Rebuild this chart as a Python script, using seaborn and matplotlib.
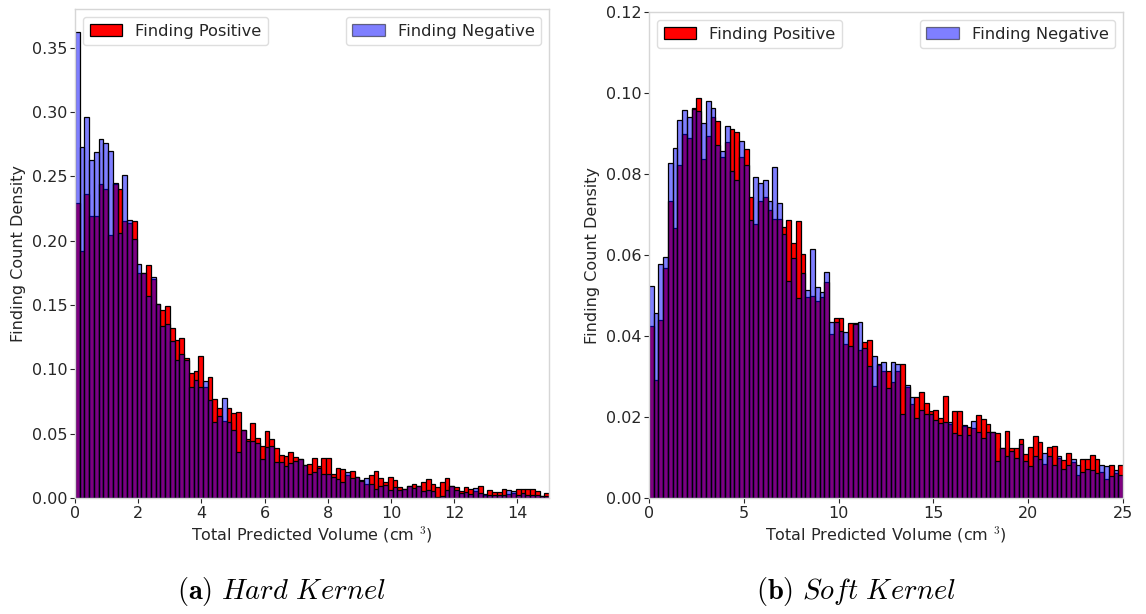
import numpy as np
import pandas as pd
import matplotlib
matplotlib.use("Agg")
import matplotlib.pyplot as plt
from matplotlib.patches import Patch
import seaborn as sns

# ---- Hard kernel: densities per bin over 0..15 cm^3 (100 bins) ----
hard_positive = [
    0.229, 0.192, 0.236, 0.219, 0.219, 0.244, 0.240, 0.204, 0.244, 0.240,
    0.215, 0.214, 0.215, 0.175, 0.175, 0.181, 0.170, 0.151, 0.146, 0.149,
    0.132, 0.123, 0.124, 0.109, 0.097, 0.099, 0.110, 0.086, 0.094, 0.077,
    0.070, 0.060, 0.070, 0.066, 0.067, 0.053, 0.0455, 0.058, 0.0466, 0.0404,
    0.052, 0.046, 0.0385, 0.0336, 0.0329, 0.0354, 0.032, 0.030, 0.0256, 0.0261,
    0.0308, 0.0251, 0.0313, 0.0308, 0.0189, 0.0233, 0.0222, 0.0178, 0.0207, 0.016,
    0.0142, 0.0109, 0.0176, 0.021, 0.0153, 0.0122, 0.0166, 0.014, 0.0083, 0.0072,
    0.0093, 0.0109, 0.0093, 0.0122, 0.0147, 0.0109, 0.0083, 0.0122, 0.0158, 0.0093,
    0.0088, 0.0052, 0.0083, 0.0072, 0.0054, 0.0093, 0.0023, 0.0062, 0.0047, 0.0044,
    0.0067, 0.0031, 0.0036, 0.007, 0.0072, 0.0067, 0.0067, 0.0057, 0.0018, 0.0036,
]
hard_negative = [
    0.362, 0.273, 0.296, 0.263, 0.269, 0.279, 0.276, 0.270, 0.245, 0.206,
    0.251, 0.216, 0.201, 0.182, 0.175, 0.157, 0.172, 0.151, 0.134, 0.135,
    0.122, 0.107, 0.112, 0.107, 0.086, 0.092, 0.086, 0.091, 0.076, 0.059,
    0.064, 0.078, 0.059, 0.0528, 0.036, 0.053, 0.044, 0.044, 0.0424, 0.0305,
    0.0393, 0.0404, 0.0277, 0.0282, 0.0246, 0.0269, 0.0285, 0.030, 0.0256, 0.0184,
    0.0199, 0.023, 0.0184, 0.0184, 0.016, 0.0145, 0.0124, 0.0199, 0.0155, 0.016,
    0.0132, 0.0153, 0.0111, 0.0067, 0.0093, 0.0101, 0.006, 0.0088, 0.0062, 0.0072,
    0.0096, 0.008, 0.0093, 0.0054, 0.0062, 0.0052, 0.001, 0.0013, 0.006, 0.0093,
    0.006, 0.0036, 0.0049, 0.0034, 0.008, 0.0041, 0.0028, 0.0023, 0.0021, 0.0021,
    0.0023, 0.0065, 0.0052, 0.0023, 0.0041, 0.0021, 0.0026, 0.0021, 0.0018, 0.0018,
]

# ---- Soft kernel: densities per bin over 0..25 cm^3 (100 bins) ----
soft_positive = [
    0.0425, 0.0291, 0.044, 0.0569, 0.0734, 0.0666, 0.0822, 0.090, 0.0888, 0.0962,
    0.0987, 0.0837, 0.0894, 0.094, 0.0932, 0.0841, 0.0879, 0.091, 0.0904, 0.0841,
    0.0861, 0.0742, 0.0676, 0.0734, 0.0742, 0.0711, 0.069, 0.069, 0.0668, 0.0686,
    0.063, 0.0683, 0.0602, 0.0497, 0.050, 0.0486, 0.0496, 0.0534, 0.0404, 0.0444,
    0.0444, 0.038, 0.0433, 0.0431, 0.0365, 0.0385, 0.0389, 0.0277, 0.0328, 0.0313,
    0.0314, 0.0286, 0.0313, 0.033, 0.0273, 0.0232, 0.025, 0.0262, 0.0234, 0.0215,
    0.0217, 0.0197, 0.0253, 0.0182, 0.0215, 0.0215, 0.0178, 0.0176, 0.0172, 0.0204,
    0.0194, 0.0183, 0.0162, 0.016, 0.0123, 0.0165, 0.0123, 0.0123, 0.0145, 0.0109,
    0.0126, 0.0153, 0.0138, 0.0083, 0.0126, 0.0128, 0.0099, 0.0094, 0.0112, 0.0089,
    0.0058, 0.0096, 0.0096, 0.0105, 0.0096, 0.0065, 0.0046, 0.0081, 0.0061, 0.0081,
]
soft_negative = [
    0.0524, 0.0456, 0.0579, 0.0596, 0.0828, 0.0865, 0.0933, 0.0958, 0.094, 0.096,
    0.0955, 0.0925, 0.098, 0.0962, 0.0872, 0.0857, 0.0918, 0.0807, 0.0785, 0.0882,
    0.0821, 0.0686, 0.0792, 0.0777, 0.0785, 0.0734, 0.0818, 0.0728, 0.0653, 0.0536,
    0.0593, 0.0495, 0.0556, 0.0514, 0.0615, 0.052, 0.0509, 0.0557, 0.0434, 0.0435,
    0.0412, 0.0409, 0.0376, 0.043, 0.0434, 0.037, 0.0326, 0.0351, 0.0332, 0.0335,
    0.0271, 0.0336, 0.0332, 0.0207, 0.0278, 0.0249, 0.0198, 0.0217, 0.0207, 0.0207,
    0.0193, 0.0186, 0.0188, 0.0188, 0.016, 0.0156, 0.018, 0.0155, 0.0191, 0.0162,
    0.0147, 0.0164, 0.0163, 0.0091, 0.0123, 0.0104, 0.0116, 0.010, 0.0133, 0.0091,
    0.0079, 0.0104, 0.0096, 0.011, 0.0104, 0.0081, 0.0104, 0.0072, 0.0081, 0.0096,
    0.0081, 0.0065, 0.0072, 0.0069, 0.0061, 0.0081, 0.0079, 0.0054, 0.0069, 0.0056,
]

hard_range = (0, 15)
soft_range = (0, 25)
hard_xticks = [0, 2, 4, 6, 8, 10, 12, 14]
soft_xticks = [0, 5, 10, 15, 20, 25]
hard_yticks = [0.00, 0.05, 0.10, 0.15, 0.20, 0.25, 0.30, 0.35]
soft_yticks = [0.00, 0.02, 0.04, 0.06, 0.08, 0.10, 0.12]
captions = [r"$\mathbf{(a)}\ \mathit{Hard\ Kernel}$",
            r"$\mathbf{(b)}\ \mathit{Soft\ Kernel}$"]

sns.set_theme(style="white")
plt.rcParams.update({
    "font.family": ["DejaVu Sans"],
    "mathtext.fontset": "cm",
    "axes.edgecolor": "#d6d6d6",
    "axes.linewidth": 1.0,
    "text.color": "#262626",
    "axes.labelcolor": "#262626",
    "xtick.color": "#262626",
    "ytick.color": "#262626",
})

W, H = 1146, 614
fig = plt.figure(figsize=(W / 100, H / 100), dpi=100)
ax_hard = fig.add_axes([75 / W, (H - 498) / H, 474 / W, (498 - 9) / H])
ax_soft = fig.add_axes([649 / W, (H - 498) / H, 474 / W, (498 - 12) / H])


def draw_panel(ax, pos, neg, xr, xticks, yticks, ytop):
    n = len(pos)
    edges = np.linspace(xr[0], xr[1], n + 1)
    df = pd.DataFrame({
        "volume": (edges[:-1] + edges[1:]) / 2,
        "positive": pos,
        "negative": neg,
    })
    sns.histplot(data=df, x="volume", weights="positive", bins=n,
                 binrange=xr, stat="count", color="red", alpha=1.0,
                 edgecolor="black", linewidth=0.9, ax=ax)
    sns.histplot(data=df, x="volume", weights="negative", bins=n,
                 binrange=xr, stat="count", color="blue", alpha=0.5,
                 edgecolor="black", linewidth=0.9, ax=ax)
    ax.set_xlim(*xr)
    ax.set_ylim(0, ytop)
    ax.set_xticks(xticks)
    ax.set_yticks(yticks)
    ax.set_yticklabels([f"{t:.2f}" for t in yticks])
    ax.tick_params(axis="both", which="major", labelsize=11.5, length=3.5,
                   width=0.8, left=True, bottom=True, pad=2)
    ax.set_xlabel("Total Predicted Volume (cm $^{3}$)", fontsize=11.5,
                  labelpad=3)
    ax.set_ylabel("Finding Count Density", fontsize=11.5)
    pos_handle = Patch(facecolor="red", edgecolor="black", linewidth=0.9)
    neg_handle = Patch(facecolor="blue", edgecolor="black", linewidth=0.9,
                       alpha=0.5)
    leg1 = ax.legend([pos_handle], ["Finding Positive"], loc="upper left",
                     fontsize=11.7, edgecolor="#d6d6d6", framealpha=0.8)
    ax.add_artist(leg1)
    ax.legend([neg_handle], ["Finding Negative"], loc="upper right",
              fontsize=11.7, edgecolor="#d6d6d6", framealpha=0.8)
    for side in ["top", "right", "left", "bottom"]:
        ax.spines[side].set_visible(True)


draw_panel(ax_hard, hard_positive, hard_negative, hard_range,
           hard_xticks, hard_yticks, 0.38)
draw_panel(ax_soft, soft_positive, soft_negative, soft_range,
           soft_xticks, soft_yticks, 0.12)

fig.text(281 / W, 1 - 592 / H, captions[0], ha="center", va="center",
         fontsize=20.5, color="black")
fig.text(856 / W, 1 - 592 / H, captions[1], ha="center", va="center",
         fontsize=20.5, color="black")

fig.savefig("out.png", dpi=100, facecolor="white")
